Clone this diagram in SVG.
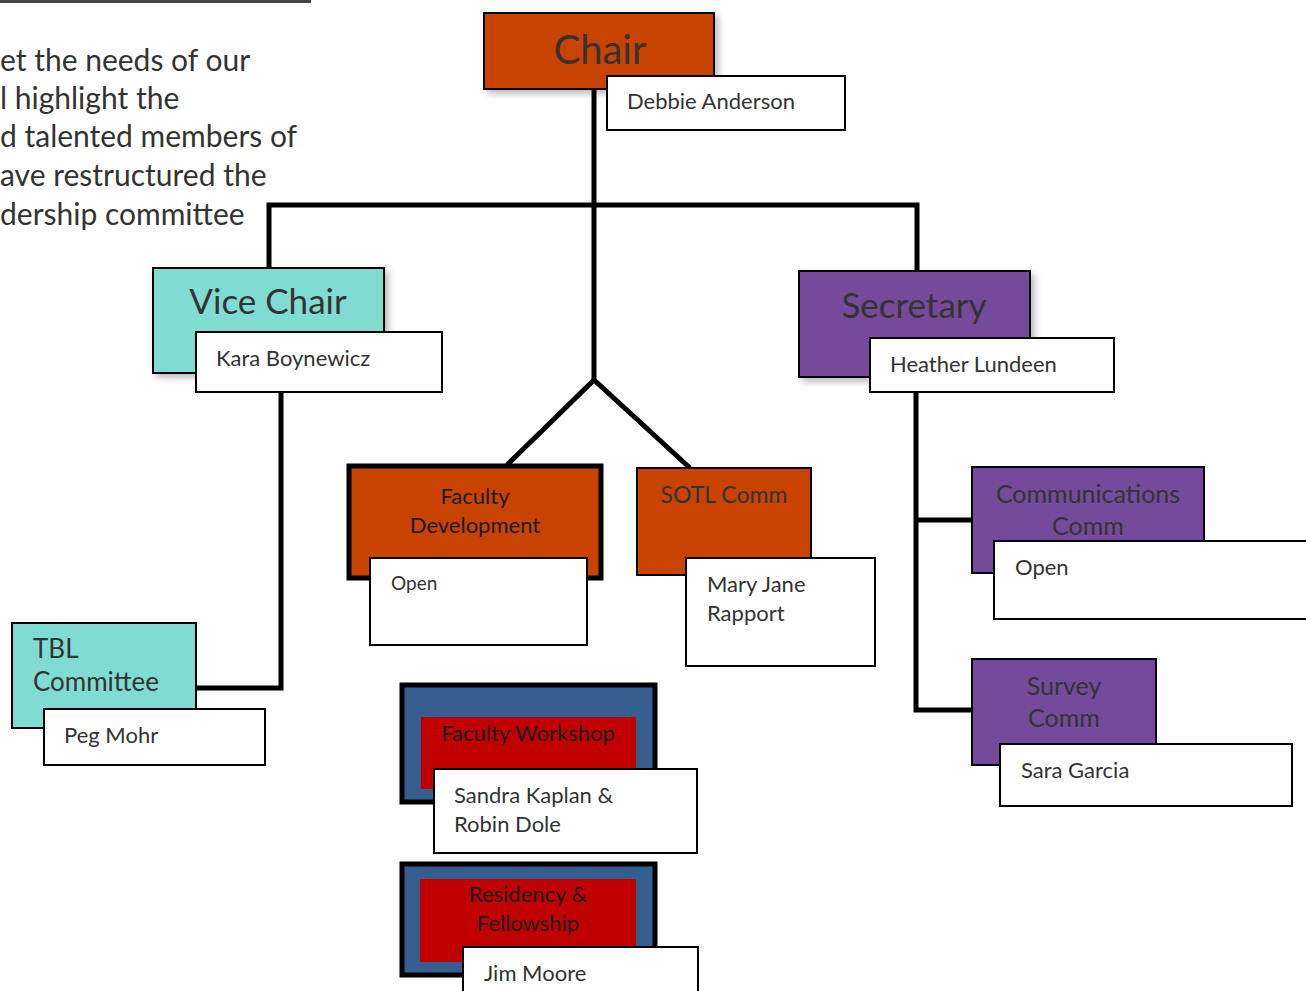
<svg xmlns="http://www.w3.org/2000/svg" width="1306" height="991" viewBox="0 0 1306 991">
<style>
.t{font-family:Lato,"Open Sans","Liberation Sans",sans-serif;fill:#333}
.dk{fill:#1a1a1a}
.box{stroke:#000;stroke-width:2}
.name{fill:#fff;stroke:#000;stroke-width:2}
.or{fill:#C84300}
.tl{fill:#80DBD0}
.pu{fill:#764A9A}
.bl{fill:#355E8F;stroke:#000;stroke-width:5}
.rd{fill:#C00000}
.c{fill:none;stroke:#000;stroke-width:5}
</style>
<defs>
<filter id="sh" x="-10%" y="-10%" width="130%" height="130%">
<feDropShadow dx="4" dy="4" stdDeviation="3" flood-color="#000" flood-opacity="0.25"/>
</filter>
</defs>
<rect width="1306" height="991" fill="#fff"/>
<line x1="0" y1="1.5" x2="311" y2="1.5" stroke="#444" stroke-width="3"/>
<g id="intro" class="t" font-size="30">
<text x="0" y="71">et the needs of our</text>
<text x="0" y="109">l highlight the</text>
<text x="0" y="147">d talented members of</text>
<text x="0" y="186">ave restructured the</text>
<text x="0" y="225">dership committee</text>
</g>
<g id="connectors">
<polyline class="c" points="594,89 594,380"/>
<polyline class="c" points="269,268 269,205 917,205 917,271"/>
<polyline class="c" points="507,465 594,380 690,468"/>
<polyline class="c" points="281,392 281,688 196,688"/>
<polyline class="c" points="916,392 916,710 972,710"/>
<line class="c" x1="916" y1="520" x2="972" y2="520"/>
</g>
<g id="chair">
<rect class="box or" x="484" y="13" width="230" height="76" filter="url(#sh)"/>
<text class="t" x="600" y="64" font-size="40" text-anchor="middle">Chair</text>
<rect class="name" x="607" y="76" width="238" height="54"/>
<text class="t" x="627" y="109" font-size="22">Debbie Anderson</text>
</g>
<g id="vicechair">
<rect class="box tl" x="153" y="268" width="231" height="105" filter="url(#sh)"/>
<text class="t" x="268" y="314" font-size="35" text-anchor="middle">Vice Chair</text>
<rect class="name" x="196" y="332" width="246" height="60"/>
<text class="t" x="216" y="366" font-size="22">Kara Boynewicz</text>
</g>
<g id="secretary">
<rect class="box pu" x="799" y="271" width="231" height="106" filter="url(#sh)"/>
<text class="t" x="914" y="318" font-size="35" text-anchor="middle">Secretary</text>
<rect class="name" x="870" y="338" width="244" height="54"/>
<text class="t" x="890" y="372" font-size="22">Heather Lundeen</text>
</g>
<g id="tbl">
<rect class="box tl" x="12" y="623" width="184" height="105"/>
<text class="t" x="33" y="658" font-size="26">TBL</text>
<text class="t" x="33" y="691" font-size="26">Committee</text>
<rect class="name" x="44" y="709" width="221" height="56"/>
<text class="t" x="64" y="743" font-size="22">Peg Mohr</text>
</g>
<g id="facultydev">
<rect class="or" x="349" y="466" width="252" height="112" stroke="#000" stroke-width="5"/>
<text class="t dk" x="475" y="504" font-size="22" text-anchor="middle">Faculty</text>
<text class="t dk" x="475" y="533" font-size="22" text-anchor="middle">Development</text>
<rect class="name" x="370" y="558" width="217" height="87"/>
<text class="t" x="391" y="590" font-size="19">Open</text>
</g>
<g id="sotl">
<rect class="box or" x="637" y="468" width="174" height="107"/>
<text class="t" x="724" y="503" font-size="23" text-anchor="middle">SOTL Comm</text>
<rect class="name" x="686" y="558" width="189" height="108"/>
<text class="t" x="707" y="592" font-size="22">Mary Jane</text>
<text class="t" x="707" y="621" font-size="22">Rapport</text>
</g>
<g id="communications">
<rect class="box pu" x="972" y="467" width="232" height="106"/>
<text class="t" x="1088" y="503" font-size="25" text-anchor="middle">Communications</text>
<text class="t" x="1088" y="535" font-size="25" text-anchor="middle">Comm</text>
<rect class="name" x="994" y="541" width="320" height="78"/>
<text class="t" x="1015" y="575" font-size="22">Open</text>
</g>
<g id="survey">
<rect class="box pu" x="972" y="659" width="184" height="106"/>
<text class="t" x="1064" y="695" font-size="25" text-anchor="middle">Survey</text>
<text class="t" x="1064" y="727" font-size="25" text-anchor="middle">Comm</text>
<rect class="name" x="1000" y="744" width="292" height="62"/>
<text class="t" x="1021" y="778" font-size="22">Sara Garcia</text>
</g>
<g id="workshop">
<rect class="bl" x="402" y="685" width="253" height="117"/>
<rect class="rd" x="421" y="717" width="215" height="72"/>
<text class="t dk" x="528" y="741" font-size="22" text-anchor="middle">Faculty Workshop</text>
<rect class="name" x="434" y="769" width="263" height="84"/>
<text class="t" x="454" y="803" font-size="22">Sandra Kaplan &amp;</text>
<text class="t" x="454" y="832" font-size="22">Robin Dole</text>
</g>
<g id="residency">
<rect class="bl" x="402" y="864" width="253" height="111"/>
<rect class="rd" x="420" y="879" width="216" height="83"/>
<text class="t dk" x="528" y="902" font-size="22" text-anchor="middle">Residency &amp;</text>
<text class="t dk" x="528" y="931" font-size="22" text-anchor="middle">Fellowship</text>
<rect class="name" x="463" y="947" width="235" height="60"/>
<text class="t" x="484" y="981" font-size="22">Jim Moore</text>
</g>
</svg>
